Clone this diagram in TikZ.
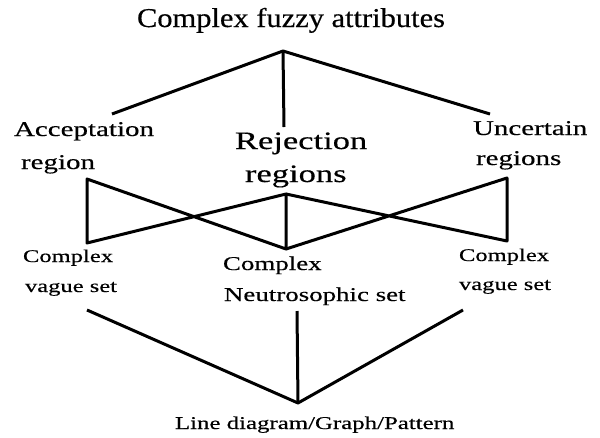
\documentclass[tikz,border=0pt]{standalone}
\usepackage{graphicx}
\usepackage{fontspec}
\setmainfont{Liberation Serif}
\newfontfamily\fT[FakeBold=0.4]{Liberation Serif}
\newfontfamily\fW[FakeStretch=1.38,FakeBold=0.4]{Liberation Serif}
\begin{document}
\begin{tikzpicture}[x=1pt,y=-1pt,
  lbl/.style={anchor=base west, inner sep=0pt, outer sep=0pt, text=black},
  ttl/.style={lbl, font=\fT\fontsize{27.2}{30}\selectfont},
  mid/.style={lbl, font=\fW\fontsize{21}{25}\selectfont},
  rej/.style={lbl, font=\fW\fontsize{25}{29}\selectfont},
  sml/.style={lbl, font=\fW\fontsize{17.8}{21}\selectfont},
  neu/.style={lbl, font=\fW\fontsize{19.5}{23}\selectfont},
  bot/.style={lbl, font=\fW\fontsize{18}{21}\selectfont},
  edge/.style={draw=black, line width=3pt, line join=round, line cap=butt}]
\useasboundingbox[fill=white] (0,0) rectangle (600,437);

% labels
\node[ttl] (title) at (137,27) {\scalebox{1.12}[1]{Complex fuzzy attributes}};
\node[mid] (acc1) at (14,136) {Acceptation};
\node[mid] (acc2) at (21,169) {region};
\node[rej] (rej1) at (235,149) {Rejection};
\node[rej] (rej2) at (245,182) {regions};
\node[mid] (unc1) at (473,135) {Uncertain};
\node[mid] (unc2) at (476,165) {regions};
\node[sml] (cvl1) at (23,262) {Complex};
\node[sml] (cvl2) at (25,292) {vague set};
\node[neu] (cns1) at (223,270) {Complex};
\node[neu] (cns2) at (224,301) {Neutrosophic set};
\node[sml] (cvr1) at (459,261) {Complex};
\node[sml] (cvr2) at (459,290) {vague set};
\node[bot] (line) at (175,429) {Line diagram/Graph/Pattern};

% connector points
\coordinate (A)  at (283,51);
\coordinate (AL) at (112,114);
\coordinate (AM) at (284,127);
\coordinate (AR) at (490,114);
\coordinate (LT) at (87,179);
\coordinate (LB) at (87,243);
\coordinate (MT) at (286,194);
\coordinate (MB) at (286,249);
\coordinate (RT) at (507,178);
\coordinate (RB) at (507,241);
\coordinate (BL) at (87,310);
\coordinate (BM) at (297,311);
\coordinate (BR) at (463,310);
\coordinate (B)  at (298,403);

% top fan
\draw[edge] (AL) -- (A) -- (AR);
\draw[edge] (A) -- (AM);
% bow ties
\draw[edge] (LT) -- (MB) -- (MT) -- (LB) -- cycle;
\draw[edge] (MT) -- (RB) -- (RT) -- (MB);
% bottom fan
\draw[edge] (BL) -- (B) -- (BR);
\draw[edge] (BM) -- (B);
\end{tikzpicture}
\end{document}
